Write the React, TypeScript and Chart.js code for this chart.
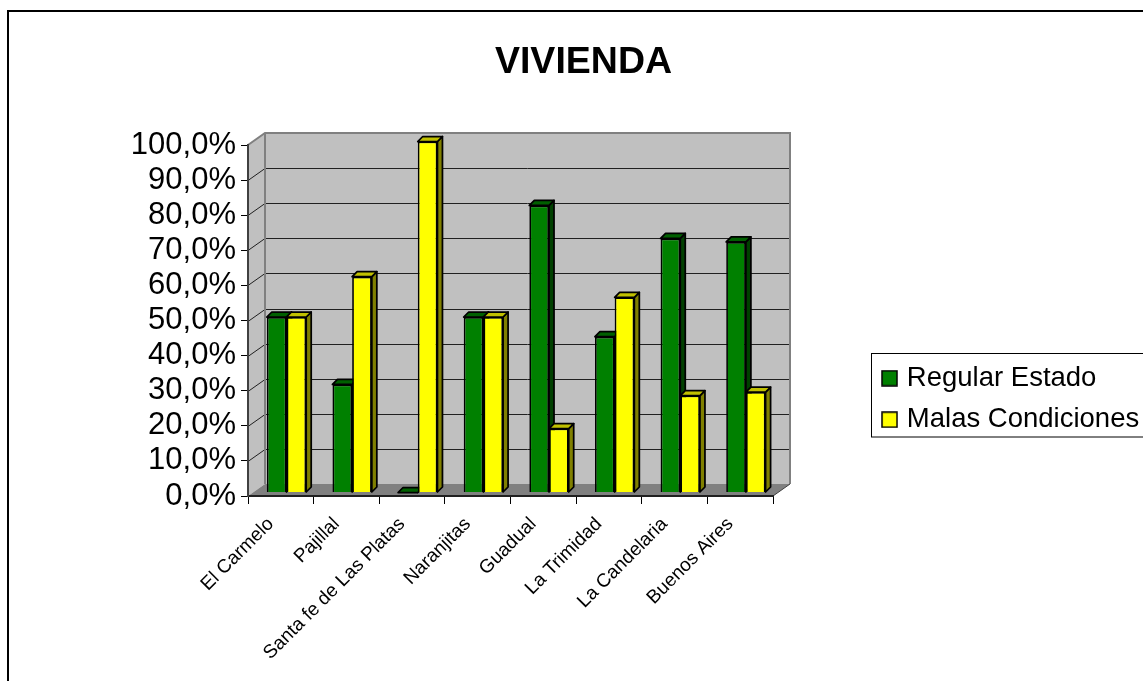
import React, { useEffect, useRef } from "react";
import { Chart, registerables } from "chart.js";

Chart.register(...registerables);

const categories = ["El Carmelo", "Pajillal", "Santa fe de Las Platas", "Naranjitas", "Guadual", "La Trimidad", "La Candelaria", "Buenos Aires"];
const regularEstado = [50, 30.8, 0, 50, 81.8, 44.4, 72.4, 71.4];
const malasCondiciones = [50, 61.5, 100, 50, 18.2, 55.6, 27.6, 28.6];
const seriesNames = ["Regular Estado", "Malas Condiciones"];
const titleText = "VIVIENDA";

const FONT = "'Liberation Sans', Arial, sans-serif";
const WALL_DX = 17;
const WALL_DY = 12;
const BAR_SHIFT_X = 5.7;
const BAR_SHIFT_Y = 3.5;
const BAR_DEPTH = 5;
const FACE = ["#008000", "#FFFF00"];
const SIDE = ["#004000", "#808000"];
const TOP = ["#006000", "#C0C000"];

function legendSwatch(color: string) {
  const c = document.createElement("canvas");
  c.width = 17;
  c.height = 17;
  const g = c.getContext("2d")!;
  g.fillStyle = color;
  g.fillRect(1, 1, 15, 15);
  g.strokeStyle = "#000";
  g.lineWidth = 1.5;
  g.strokeRect(1, 1, 15, 15);
  return c;
}

const poly = (ctx: CanvasRenderingContext2D, pts: number[][], fill: string, stroke?: string, lw = 1) => {
  ctx.beginPath();
  pts.forEach(([x, y], i) => (i ? ctx.lineTo(x, y) : ctx.moveTo(x, y)));
  ctx.closePath();
  ctx.fillStyle = fill;
  ctx.fill();
  if (stroke) {
    ctx.strokeStyle = stroke;
    ctx.lineWidth = lw;
    ctx.lineJoin = "round";
    ctx.stroke();
  }
};

const scene3d = {
  id: "scene3d",
  beforeLayout(chart: any) {
    const lg = chart.legend;
    if (lg && !lg.__wrapped) {
      const fit = lg.fit;
      lg.fit = function () {
        fit.call(this);
        this.width = 370;
      };
      lg.__wrapped = true;
    }
  },
  afterLayout(chart: any) {
    const lg = chart.legend;
    lg.left = 872;
    lg.top = 350.5;
  },
  beforeDraw(chart: any) {
    const { ctx, chartArea: a, scales } = chart;
    const y = scales.y;
    ctx.save();
    ctx.fillStyle = "#fff";
    ctx.fillRect(0, 0, chart.width, chart.height);
    ctx.strokeStyle = "#000";
    ctx.lineWidth = 2;
    ctx.strokeRect(8, 11, 1400, 900);

    // walls
    poly(ctx, [[a.left, a.top], [a.left + WALL_DX, a.top - WALL_DY], [a.left + WALL_DX, a.bottom - WALL_DY], [a.left, a.bottom]], "#C0C0C0");
    poly(ctx, [[a.left + WALL_DX, a.top - WALL_DY], [a.right + WALL_DX, a.top - WALL_DY], [a.right + WALL_DX, a.bottom - WALL_DY], [a.left + WALL_DX, a.bottom - WALL_DY]], "#C0C0C0");
    poly(ctx, [[a.left, a.bottom], [a.left + WALL_DX, a.bottom - WALL_DY], [a.right + WALL_DX, a.bottom - WALL_DY], [a.right, a.bottom]], "#808080");

    // grid lines
    ctx.strokeStyle = "#202020";
    ctx.lineWidth = 1;
    y.ticks.forEach((t: any) => {
      if (t.value === 0 || t.value === 100) return;
      const py = Math.round(y.getPixelForValue(t.value)) + 0.5;
      ctx.beginPath();
      ctx.moveTo(a.left, py);
      ctx.lineTo(a.left + WALL_DX, py - WALL_DY);
      ctx.lineTo(a.right + WALL_DX, py - WALL_DY);
      ctx.stroke();
    });

    // wall outline
    ctx.strokeStyle = "#808080";
    ctx.lineWidth = 2;
    ctx.beginPath();
    ctx.moveTo(a.left, a.top);
    ctx.lineTo(a.left + WALL_DX, a.top - WALL_DY);
    ctx.lineTo(a.right + WALL_DX, a.top - WALL_DY);
    ctx.lineTo(a.right + WALL_DX, a.bottom - WALL_DY);
    ctx.moveTo(a.left + WALL_DX, a.top - WALL_DY);
    ctx.lineTo(a.left + WALL_DX, a.bottom - WALL_DY);
    ctx.stroke();
    ctx.strokeStyle = "#404040";
    ctx.lineWidth = 1;
    ctx.beginPath();
    ctx.moveTo(a.right, a.bottom);
    ctx.lineTo(a.right + WALL_DX, a.bottom - WALL_DY);
    ctx.stroke();

    // legend frame
    ctx.fillStyle = "#fff";
    ctx.fillRect(871, 353.5, 300, 83.5);
    ctx.strokeStyle = "#000";
    ctx.lineWidth = 1;
    ctx.strokeRect(871.5, 353.5, 300, 83.5);
    ctx.restore();
  },
  // Series are painted in order (first series behind) so that each bar's
  // depth faces sit under the next bar, as in a clustered 3D column.
  beforeDatasetsDraw(chart: any) {
    const { ctx } = chart;
    chart.data.datasets.forEach((_: any, idx: number) => {
      const meta = chart.getDatasetMeta(idx);
      ctx.save();
      ctx.translate(BAR_SHIFT_X, -BAR_SHIFT_Y);
      meta.data.forEach((el: any) => {
        const { x, y, base, width } = el.getProps(["x", "y", "base", "width"], true);
        const l = x - width / 2;
        const r = x + width / 2;
        poly(ctx, [[r, y], [r + BAR_DEPTH, y - BAR_DEPTH], [r + BAR_DEPTH, base - BAR_DEPTH], [r, base]], SIDE[idx], "#000", 1.75);
        poly(ctx, [[l, y], [l + BAR_DEPTH, y - BAR_DEPTH], [r + BAR_DEPTH, y - BAR_DEPTH], [r, y]], TOP[idx], "#000", 1.75);
      });
      meta.controller.draw();
      ctx.restore();
    });
    return false;
  },
};

export default function App() {
  const ref = useRef<HTMLCanvasElement>(null);
  useEffect(() => {
    const chart = new Chart(ref.current!, {
      type: "bar",
      data: {
        labels: categories,
        datasets: [
          { label: seriesNames[0], data: regularEstado, backgroundColor: FACE[0], borderColor: "#000", borderWidth: 1.75 },
          { label: seriesNames[1], data: malasCondiciones, backgroundColor: FACE[1], borderColor: "#000", borderWidth: 1.75 },
        ],
      },
      options: {
        responsive: false,
        animation: false,
        events: [],
        layout: { padding: { left: 24, top: 0, right: 0, bottom: 0 } },
        datasets: { bar: { barPercentage: 1, categoryPercentage: 0.6 } },
        scales: {
          x: {
            afterFit: (s: any) => { s.height = 185; },
            grid: { drawOnChartArea: false, drawTicks: true, tickLength: 8, tickColor: "#000", offset: true },
            border: { color: "#202020", width: 2 },
            ticks: {
              autoSkip: false,
              maxRotation: 45,
              minRotation: 45,
              padding: 9,
              labelOffset: -10,
              color: "#000",
              font: { family: FONT, size: 19 },
            },
          },
          y: {
            min: 0,
            max: 100,
            afterFit: (s: any) => { s.width = 224; },
            grid: { drawOnChartArea: false, drawTicks: true, tickLength: 7, tickColor: "#000" },
            border: { color: "#404040", width: 2 },
            ticks: {
              stepSize: 10,
              autoSkip: false,
              padding: 5,
              color: "#000",
              font: { family: FONT, size: 31 },
              callback: (v: any) => Number(v).toFixed(1).replace(".", ",") + "%",
            },
          },
        },
        plugins: {
          tooltip: { enabled: false },
          title: {
            display: true,
            text: titleText,
            color: "#000",
            font: { family: FONT, size: 37.5, weight: "bold" },
            padding: { top: 40, bottom: 60 },
          },
          legend: {
            display: true,
            position: "right",
            align: "start",
            labels: {
              color: "#000",
              font: { family: FONT, size: 27.5 },
              padding: 14,
              usePointStyle: true,
              pointStyleWidth: 7.1,
              boxHeight: 16,
              generateLabels: (c: any) =>
                c.data.datasets.map((d: any, i: number) => ({
                  text: d.label,
                  pointStyle: legendSwatch(FACE[i]),
                  fillStyle: FACE[i],
                  strokeStyle: "#000",
                  lineWidth: 0,
                  hidden: false,
                  datasetIndex: i,
                  fontColor: "#000",
                })),
            },
          },
        },
      },
      plugins: [scene3d],
    } as any);
    return () => chart.destroy();
  }, []);
  return (
    <div style={{ position: "absolute", left: 0, top: 0, width: 1143, height: 681, overflow: "hidden" }}>
      <canvas ref={ref} width={1143} height={681} style={{ display: "block" }} />
    </div>
  );
}
